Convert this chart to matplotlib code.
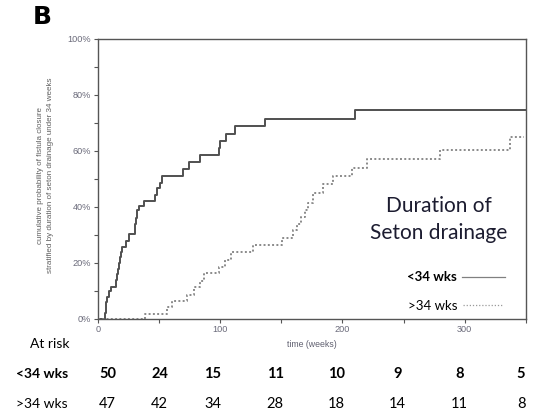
import matplotlib
matplotlib.use("Agg")
import matplotlib.pyplot as plt
from matplotlib.ticker import MultipleLocator, FuncFormatter

# Kaplan-Meier style cumulative closure (weeks, %)
short_t = [0, 6, 6.5, 7, 8, 9, 10.6, 14.7, 15.5, 16.5, 17.5, 18.2, 19, 20.1, 22.9,
           25.6, 30.2, 30.8, 31.3, 31.8, 33.7, 37.8, 46.5, 48.7, 50.6, 52.8, 69.9,
           74.6, 83.3, 99, 99.9, 105, 111.8, 136.6, 210, 350]
short_p = [0, 2, 4, 6, 8, 10, 11.5, 14, 16, 18, 20, 22.3, 24, 25.8, 27.9,
           30.2, 32, 34, 36, 38.9, 40.5, 42.3, 44.3, 46.7, 48.5, 51, 53.6,
           56, 58.5, 61, 63.6, 66, 68.8, 71.5, 74.6, 74.6]

long_t = [0, 39, 56.5, 61, 72.7, 78.6, 84, 86.8, 99, 103.7, 108.6, 127, 151, 160,
          163, 166, 169, 172, 176, 184, 192, 208, 220, 280, 337, 348]
long_p = [0, 1.8, 4.4, 6.5, 8.6, 11.3, 13.5, 16.3, 18.4, 21.1, 23.8, 26.4, 29, 31.8,
          34, 36.5, 39, 41.5, 45, 48.3, 51, 54, 57, 60.4, 65, 65]

risk_short = [50, 24, 15, 11, 10, 9, 8, 5]
risk_long = [47, 42, 34, 28, 18, 14, 11, 8]

# layout (pixel positions in a 534x417 figure)
W, H = 534, 417
RISK_X = [107.5, 159.5, 213, 275.3, 336.3, 397.7, 459.7, 521]


def px(x, y):
    return x / W, 1 - y / H


fig = plt.figure(figsize=(W / 100, H / 100), dpi=100)
ax = fig.add_axes([97.7 / W, 1 - 319 / H, (526 - 97.7) / W, (319 - 39) / H])

ax.step(short_t, short_p, where="post", color="#505050", lw=1.4)
ax.step(long_t, long_p, where="post", color="#8a8a8a", lw=1.4, ls=(0, (1, 1.2)))

ax.set_xlim(0, 350)
ax.set_ylim(0, 100)
ax.xaxis.set_major_locator(MultipleLocator(100))
ax.xaxis.set_minor_locator(MultipleLocator(50))
ax.yaxis.set_major_locator(MultipleLocator(20))
ax.yaxis.set_minor_locator(MultipleLocator(10))
ax.yaxis.set_major_formatter(FuncFormatter(lambda v, _: f"{v:.0f}%"))

tick_col = "#6a6a7a"
ax.tick_params(which="both", direction="out", length=3, width=0.8, color="#555555",
               labelsize=6.6, labelcolor=tick_col, pad=1.5)
for lab in ax.get_xticklabels() + ax.get_yticklabels():
    lab.set_fontfamily("Liberation Sans")
for sp in ax.spines.values():
    sp.set_color("#555555")
    sp.set_linewidth(1.0)

ax.set_xlabel("time (weeks)", fontsize=6.3, color="#606070", family="Liberation Sans",
              labelpad=4)
fig.text(*px(41, 175), "cumulative probability of fistula closure",
         rotation=90, ha="center", va="center", fontsize=5.8, color="#606060",
         family="Liberation Sans")
fig.text(*px(51, 175), "stratified by duration of seton drainage under 34 weeks",
         rotation=90, ha="center", va="center", fontsize=5.8, color="#606060",
         family="Liberation Sans")

fig.text(*px(42, 17), "B", fontsize=18, fontweight="bold", ha="center", va="center",
         family="DejaVu Sans")

fig.text(*px(439, 206), "Duration of", fontsize=15, ha="center", va="center",
         color="#1c1c30", family="Lato")
fig.text(*px(439, 233), "Seton drainage", fontsize=15, ha="center", va="center",
         color="#1c1c30", family="Lato")

# legend
fig.text(*px(457, 277), "<34 wks", fontsize=9.5, fontweight="bold", ha="right",
         va="center", family="Lato")
fig.text(*px(457, 306), ">34 wks", fontsize=9.5, ha="right", va="center", family="Lato")
fig.lines.append(plt.Line2D([462 / W, 505 / W], [1 - 277 / H] * 2, color="#808080",
                            lw=0.9, transform=fig.transFigure))
fig.lines.append(plt.Line2D([463 / W, 503 / W], [1 - 305 / H] * 2, color="#9a9a9a",
                            lw=0.9, ls=(0, (1, 1.5)), transform=fig.transFigure))

# number at risk table
fig.text(*px(49.5, 344), "At risk", fontsize=10, ha="center", va="center", family="Lato")
fig.text(*px(41.7, 374), "<34 wks", fontsize=10, fontweight="bold", ha="center",
         va="center", family="Lato")
fig.text(*px(42, 404), ">34 wks", fontsize=10, ha="center", va="center", family="Lato")
for x, a, b in zip(RISK_X, risk_short, risk_long):
    fig.text(*px(x, 374), str(a), fontsize=10.5, fontweight="bold", ha="center",
             va="center", family="Lato")
    fig.text(*px(x, 404), str(b), fontsize=10.5, ha="center", va="center", family="Lato")

fig.savefig("out.png", dpi=100)
